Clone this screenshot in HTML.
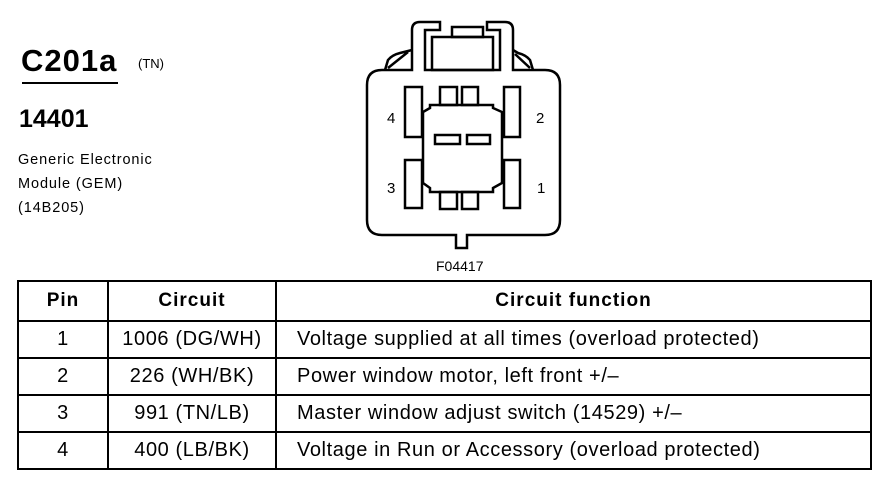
<!DOCTYPE html>
<html><head><meta charset="utf-8"><style>
body{margin:0;width:892px;height:480px;background:#fff;position:relative;overflow:hidden;font-family:"Liberation Sans",Arial,sans-serif;color:#000}
.a{position:absolute;white-space:nowrap}
table{position:absolute;left:17px;top:280px;border-collapse:collapse;font-size:20px;letter-spacing:0.6px;table-layout:fixed;width:853px}
td{border:2px solid #000;height:35px;padding:0;text-align:center;white-space:nowrap}
th{border:2px solid #000;height:35.5px;font-size:19px;letter-spacing:1px}
</style></head><body>
<div class="a" style="left:21px;top:43px;font-size:31px;font-weight:bold;letter-spacing:1px">C201a</div>
<div style="position:absolute;left:22px;top:82px;width:96px;height:2px;background:#000"></div>
<div class="a" style="left:138px;top:56px;font-size:13px">(TN)</div>
<div class="a" style="left:19px;top:105px;font-size:25px;font-weight:bold">14401</div>
<div class="a" style="left:18px;top:148px;font-size:14.5px;line-height:24px;letter-spacing:0.9px">Generic Electronic<br>Module (GEM)<br>(14B205)</div>
<svg style="position:absolute;left:0;top:0" width="892" height="280">
<g fill="none" stroke="#000" stroke-width="2.5">
<path d="M382,70 H412 V30 Q412,22 420,22 H440 V30 H425 V70 H500 V30 H487 V22 H505 Q513,22 513,30 V70 H545 Q560,70 560,85 V220 Q560,235 545,235 H467 V248 H456 V235 H382 Q367,235 367,220 V85 Q367,70 382,70 Z"/>
<rect x="432" y="37" width="61" height="33"/>
<rect x="452" y="27" width="31" height="10"/>
<path d="M385,70 L388,60 Q392,55 400,53 L412,50 M388,68 L408,52"/>
<path d="M533,70 L530,60 Q526,55 518,53 L513,50 M530,68 L515,54"/>
<rect x="405" y="87" width="17" height="50"/>
<rect x="405" y="160" width="17" height="48"/>
<rect x="504" y="87" width="16" height="50"/>
<rect x="504" y="160" width="16" height="48"/>
<rect x="440" y="87" width="17" height="18"/>
<rect x="462" y="87" width="16" height="18"/>
<rect x="440" y="192" width="17" height="17"/>
<rect x="462" y="192" width="16" height="17"/>
<path d="M423,112 L430,108 V105 H493 V108 L502,112 V183 L493,188 V192 H430 V188 L423,183 Z"/>
<rect x="435" y="135" width="25" height="9"/>
<rect x="467" y="135" width="23" height="9"/>
</g>
<g font-size="15" font-family="Liberation Sans,Arial,sans-serif">
<text x="387" y="123">4</text><text x="536" y="123">2</text>
<text x="387" y="193">3</text><text x="537" y="193">1</text>
<text x="436" y="271" font-size="14">F04417</text>
</g>
</svg>
<table>
<colgroup><col style="width:90px"><col style="width:168px"><col style="width:595px"></colgroup>
<tr><th>Pin</th><th>Circuit</th><th>Circuit function</th></tr>
<tr><td>1</td><td>1006 (DG/WH)</td><td style="text-align:left;padding-left:20px">Voltage supplied at all times (overload protected)</td></tr>
<tr><td>2</td><td>226 (WH/BK)</td><td style="text-align:left;padding-left:20px">Power window motor, left front +/–</td></tr>
<tr><td>3</td><td>991 (TN/LB)</td><td style="text-align:left;padding-left:20px">Master window adjust switch (14529) +/–</td></tr>
<tr><td>4</td><td>400 (LB/BK)</td><td style="text-align:left;padding-left:20px">Voltage in Run or Accessory (overload protected)</td></tr>
</table>
</body></html>
